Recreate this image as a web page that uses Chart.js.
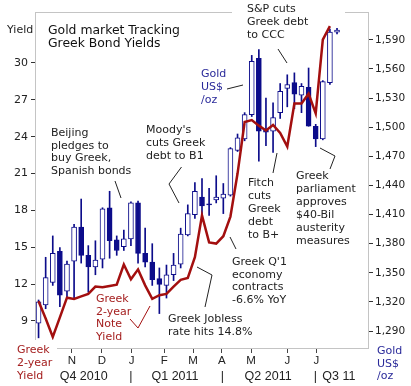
<!DOCTYPE html>
<html>
<head>
<meta charset="utf-8">
<script src="https://cdn.jsdelivr.net/npm/chart.js@4.4.0/dist/chart.umd.min.js"></script>
<style>
html,body{margin:0;padding:0;background:#fff;}
#wrap{width:411px;height:386px;}
</style>
</head>
<body>
<div id="wrap"><canvas id="chart" width="411" height="386"></canvas></div>
<script>
// weekly gold candles (week ending) and Greek 2-year yield
var weeks = ['Oct 1','Oct 8','Oct 15','Oct 22','Oct 29','Nov 5','Nov 12','Nov 19','Nov 26',
  'Dec 3','Dec 10','Dec 17','Dec 24','Dec 31','Jan 7','Jan 14','Jan 21','Jan 28',
  'Feb 4','Feb 11','Feb 18','Feb 25','Mar 4','Mar 11','Mar 18','Mar 25',
  'Apr 1','Apr 8','Apr 15','Apr 22','Apr 29','May 6','May 13','May 20','May 27',
  'Jun 3','Jun 10','Jun 17','Jun 24','Jul 1','Jul 8','Jul 15','Jul 22'];

var goldOpen  = [1298,1317,1340,1372,1331,1362,1397,1368,1356,1364,1417,1384,1377,1385,1422,1370,1361,1344,1337,1348,1359,1389,1410,1428,1421,1425,1427,1430,1476,1488,1513,1571,1497,1496,1515,1540,1546,1533,1541,1501,1488,1546,1598];
var goldHigh  = [1322,1366,1388,1376,1362,1400,1426,1378,1383,1417,1434,1388,1394,1423,1424,1396,1380,1355,1358,1370,1396,1420,1443,1447,1437,1450,1442,1479,1493,1515,1574,1580,1530,1525,1545,1554,1556,1545,1561,1503,1548,1601,1602];
var goldLow   = [1283,1313,1337,1315,1324,1324,1360,1330,1348,1355,1365,1368,1373,1378,1360,1356,1337,1308,1324,1342,1355,1388,1406,1409,1409,1422,1411,1429,1475,1486,1511,1465,1481,1474,1509,1521,1519,1515,1501,1480,1487,1544,1596];
var goldClose = [1320,1345,1370,1327,1359,1397,1368,1356,1363,1416,1383,1373,1385,1422,1370,1361,1343,1338,1348,1358,1390,1411,1434,1419,1420,1428,1431,1478,1489,1513,1568,1496,1495,1510,1537,1544,1534,1542,1501,1488,1547,1598,1600];

var greekYield = [10.6,9.2,7.7,9.3,10.9,10.8,11.0,11.2,11.8,11.75,11.85,11.95,13.6,12.4,13.2,11.9,10.8,11.1,11.2,11.8,12.35,12.5,14.2,17.6,15.4,15.3,15.9,17.5,21.0,25.2,25.35,24.9,24.5,24.95,24.3,23.2,26.7,26.7,27.5,25.9,31.9,33.0,null];

var monthPos = [4.7, 8.9, 13.1, 17.7, 21.75, 25.8, 29.9, 35.0, 39.1];
var monthLabels = ['N','D','J','F','M','A','M','J','J'];
var quarterPos = [6.35, 13.0, 19.2, 25.85, 32.3, 38.95, 42.25];
var quarterLabels = ['Q4 2010','|','Q1 2011','|','Q2 2011','|','Q3 11'];
var yieldTicks = [9,12,15,18,21,24,27,30];
var goldTicks = [1290,1320,1350,1380,1410,1440,1470,1500,1530,1560,1590];

var NAVY = '#0c0c8a';
var DARKRED = '#a30f0f';

Chart.defaults.font.family = 'DejaVu Sans';

var wicks = [], bodies = [], bodyFill = [], yieldPts = [];
for (var i = 0; i < weeks.length; i++) {
  wicks.push({x: i, y: [goldLow[i], goldHigh[i]]});
  bodies.push({x: i, y: [goldOpen[i], goldClose[i]]});
  bodyFill.push(goldClose[i] >= goldOpen[i] ? '#ffffff' : NAVY);
  yieldPts.push({x: i, y: greekYield[i]});
}

var notes = [
  {x:48, y:31, lh:13, size:12.4, color:'#111', lines:['Gold market Tracking','Greek Bond Yields']},
  {x:7, y:30, lh:13, size:11, color:'#222', lines:['Yield']},
  {x:247, y:9, lh:13, size:11, color:'#222', lines:['S&P cuts','Greek debt','to CCC']},
  {x:201, y:74, lh:13, size:11, color:'#2a2a9a', lines:['Gold','US$','/oz']},
  {x:51, y:133, lh:12.7, size:11, color:'#222', lines:['Beijing','pledges to','buy Greek,','Spanish bonds']},
  {x:146, y:130, lh:13, size:11, color:'#222', lines:["Moody's",'cuts Greek','debt to B1']},
  {x:248, y:183, lh:13.1, size:11, color:'#222', lines:['Fitch','cuts','Greek','debt','to B+']},
  {x:232, y:262, lh:12.7, size:11, color:'#222', lines:["Greek Q'1",'economy','contracts','-6.6% YoY']},
  {x:168, y:319, lh:13, size:11, color:'#222', lines:['Greek Jobless','rate hits 14.8%']},
  {x:296, y:176, lh:12.95, size:11, color:'#222', lines:['Greek','parliament','approves','$40-Bil','austerity','measures']},
  {x:96, y:299, lh:12.7, size:11, color:'#a52020', lines:['Greek','2-year','Note','Yield']},
  {x:17, y:350, lh:13, size:11, color:'#a52020', lines:['Greek','2-year','Yield']},
  {x:377, y:351, lh:12.7, size:11, color:'#2a2a9a', lines:['Gold','US$','/oz']}
];
var leaders = [
  {c:'#222', p:[[278,49],[287,63]]},
  {c:'#222', p:[[227,89],[243,85]]},
  {c:'#222', p:[[115,181],[121,198]]},
  {c:'#222', p:[[181.5,167],[169,184],[179,203]]},
  {c:'#222', p:[[277,153],[273,173]]},
  {c:'#222', p:[[230,237],[236,249]]},
  {c:'#222', p:[[197,267],[212,275],[205,307]]},
  {c:'#222', p:[[320,148],[335,156],[330,169]]},
  {c:DARKRED, p:[[130,319],[138,328],[150,306]]}
];

var framePlugin = {
  id: 'frame',
  beforeDatasetsDraw: function(chart) {
    var a = chart.chartArea, ctx = chart.ctx;
    ctx.save();
    ctx.strokeStyle = '#c4c4c4';
    ctx.lineWidth = 1;
    ctx.strokeRect(Math.round(a.left) + 0.5, Math.round(a.top) + 0.5, Math.round(a.right - a.left) - 1, Math.round(a.bottom - a.top) - 1);
    ctx.restore();
  },
  afterDraw: function(chart) {
    var ctx = chart.ctx;
    ctx.save();
    ctx.fillStyle = '#fff';
    ctx.fillRect(232, 0, 113, 14);
    ctx.fillRect(0, 340, 57, 46);
    leaders.forEach(function(l){
      ctx.strokeStyle = l.c;
      ctx.lineWidth = 1;
      ctx.beginPath();
      l.p.forEach(function(pt, k){ if (k) ctx.lineTo(pt[0], pt[1]); else ctx.moveTo(pt[0], pt[1]); });
      ctx.stroke();
    });
    ctx.textBaseline = 'middle';
    ctx.textAlign = 'left';
    notes.forEach(function(n){
      ctx.font = n.size + 'px "DejaVu Sans"';
      ctx.fillStyle = n.color;
      n.lines.forEach(function(t, k){ ctx.fillText(t, n.x, n.y + k * n.lh); });
    });
    ctx.restore();
  }
};

new Chart(document.getElementById('chart'), {
  type: 'bar',
  data: {
    datasets: [
      {type:'line', label:'Greek 2-year yield', data: yieldPts, yAxisID:'yy', xAxisID:'x',
       borderColor: DARKRED, borderWidth: 2.5, pointRadius: 0, tension: 0, fill: false, order: 0},
      {label:'body', data: bodies, yAxisID:'yg', xAxisID:'x', grouped:false,
       backgroundColor: bodyFill, borderColor: NAVY, borderWidth: 1, borderSkipped: false,
       barThickness: 5, maxBarThickness: 5, order: 1},
      {label:'wick', data: wicks, yAxisID:'yg', xAxisID:'x', grouped:false,
       backgroundColor: NAVY, borderWidth: 0, barThickness: 1, maxBarThickness: 1.2, order: 2}
    ]
  },
  options: {
    responsive: false,
    animation: false,
    layout: {padding: {top: 12, left: 0, right: 0, bottom: 0}},
    plugins: {legend: {display: false}, tooltip: {enabled: false}},
    scales: {
      x: {type:'linear', display:false, min:-0.5, max:46.5, offset:false},
      xm: {type:'linear', position:'bottom', min:-0.5, max:46.5, offset:false,
        afterBuildTicks: function(s){ s.ticks = monthPos.map(function(v){ return {value:v}; }); },
        afterFit: function(s){ s.height = 18; },
        grid: {drawOnChartArea:false, drawTicks:true, tickLength:4, color:'#444', offset:false},
        border: {display:false},
        ticks: {autoSkip:false, maxRotation:0, padding:1, color:'#222',
          font:{family:'Liberation Sans', size:11.5},
          callback: function(v, i){ return monthLabels[i]; }}
      },
      xq: {type:'linear', position:'bottom', min:-0.5, max:46.5, offset:false,
        afterBuildTicks: function(s){ s.ticks = quarterPos.map(function(v){ return {value:v}; }); },
        afterFit: function(s){ s.height = 19; },
        grid: {display:false, drawTicks:false, offset:false},
        border: {display:false},
        ticks: {autoSkip:false, maxRotation:0, padding:2, color:'#222',
          font:{family:'Liberation Sans', size:12.5},
          callback: function(v, i){ return quarterLabels[i]; }}
      },
      yy: {type:'linear', position:'left', min:6.72, max:34.15,
        afterBuildTicks: function(s){ s.ticks = yieldTicks.map(function(v){ return {value:v}; }); },
        afterFit: function(s){ s.width = 35; },
        grid: {drawOnChartArea:false, tickLength:4, color:'#333'},
        border: {display:false},
        ticks: {color:'#222', padding:3, font:{size:11}, callback: function(v){ return String(v); }}
      },
      yg: {type:'linear', position:'right', min:1271.5, max:1618.7,
        afterBuildTicks: function(s){ s.ticks = goldTicks.map(function(v){ return {value:v}; }); },
        afterFit: function(s){ s.width = 42; },
        grid: {drawOnChartArea:false, tickLength:4, color:'#333'},
        border: {display:false},
        ticks: {color:'#222', padding:2, font:{size:10.5}, callback: function(v){ return v.toLocaleString('en-US'); }}
      }
    }
  },
  plugins: [framePlugin]
});
</script>
</body>
</html>
